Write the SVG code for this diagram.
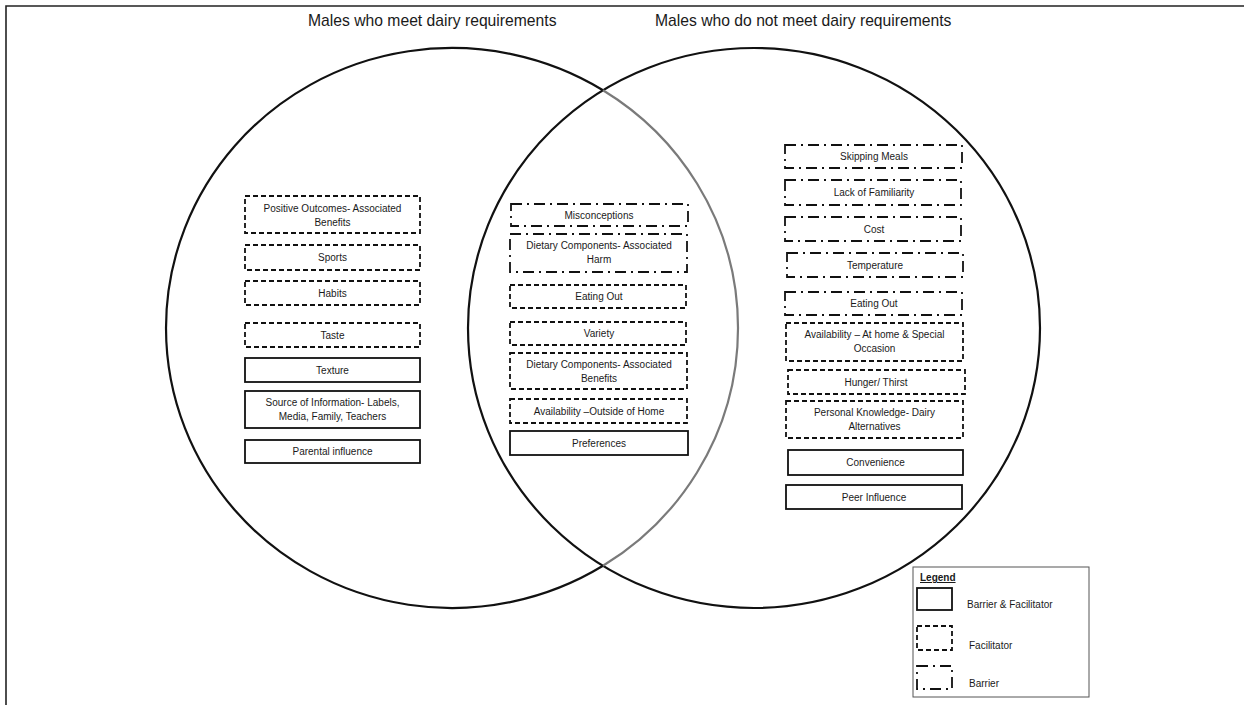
<svg xmlns="http://www.w3.org/2000/svg" width="1244" height="705" viewBox="0 0 1244 705">
<style>
.bx{fill:#fff;stroke:#111;stroke-width:1.8}
.dash{stroke-dasharray:5 3}
.dd{stroke-dasharray:11 5 2 5}
.lbl{font-family:"Liberation Sans",Arial,sans-serif;font-size:10px;text-anchor:middle;fill:#1a1a1a}
.ttl{font-family:"Liberation Sans",Arial,sans-serif;font-size:15.7px;fill:#1a1a1a}
.lg{font-family:"Liberation Sans",Arial,sans-serif;font-size:10px;fill:#1a1a1a}
.circ{fill:none;stroke-width:2.2}
</style>
<rect x="0" y="0" width="1244" height="705" fill="#fff"/>
<g id="frame">
<path d="M6 705 V6 H1244" fill="none" stroke="#222" stroke-width="1.6"/>
</g>
<g id="titles">
<text class="ttl" x="308" y="26">Males who meet dairy requirements</text>
<text class="ttl" x="655" y="26">Males who do not meet dairy requirements</text>
</g>
<g id="circles">
<ellipse class="circ" cx="754" cy="328" rx="286" ry="280" stroke="#111"/>
<path class="circ" d="M603 90.2 A286 280 0 1 0 603 565.8" stroke="#111"/>
<path class="circ" d="M603 90.2 A286 280 0 0 1 603 565.8" stroke="#7a7a7a"/>
</g>
<g id="left">
<g id="n-positive"><rect class="bx dash" x="245" y="196" width="175" height="37"/><text class="lbl" x="332.5" y="211.5">Positive Outcomes- Associated</text><text class="lbl" x="332.5" y="225.5">Benefits</text></g>
<g id="n-sports"><rect class="bx dash" x="245" y="245" width="175" height="25"/><text class="lbl" x="332.5" y="261">Sports</text></g>
<g id="n-habits"><rect class="bx dash" x="245" y="281" width="175" height="24"/><text class="lbl" x="332.5" y="297">Habits</text></g>
<g id="n-taste"><rect class="bx dash" x="245" y="323" width="175" height="24"/><text class="lbl" x="332.5" y="339">Taste</text></g>
<g id="n-texture"><rect class="bx" x="245" y="358" width="175" height="24"/><text class="lbl" x="332.5" y="374">Texture</text></g>
<g id="n-source"><rect class="bx" x="245" y="391" width="175" height="37"/><text class="lbl" x="332.5" y="406">Source of Information- Labels,</text><text class="lbl" x="332.5" y="420">Media, Family, Teachers</text></g>
<g id="n-parental"><rect class="bx" x="245" y="440" width="175" height="23"/><text class="lbl" x="332.5" y="455">Parental influence</text></g>
</g>
<g id="middle">
<g id="n-misconceptions"><rect class="bx dd" x="511" y="204" width="177" height="22"/><text class="lbl" x="599" y="219">Misconceptions</text></g>
<g id="n-harm"><rect class="bx dd" x="510" y="234" width="177" height="38"/><text class="lbl" x="599" y="249">Dietary Components- Associated</text><text class="lbl" x="599" y="263">Harm</text></g>
<g id="n-eatingout-m"><rect class="bx dash" x="510" y="285" width="176" height="23"/><text class="lbl" x="599" y="300">Eating Out</text></g>
<g id="n-variety"><rect class="bx dash" x="510" y="322" width="176" height="23"/><text class="lbl" x="599" y="337">Variety</text></g>
<g id="n-benefits"><rect class="bx dash" x="510" y="353" width="177" height="36"/><text class="lbl" x="599" y="368">Dietary Components- Associated</text><text class="lbl" x="599" y="382">Benefits</text></g>
<g id="n-outside"><rect class="bx dash" x="510" y="399" width="177" height="24"/><text class="lbl" x="599" y="415">Availability –Outside of Home</text></g>
<g id="n-preferences"><rect class="bx" x="510" y="431" width="178" height="24"/><text class="lbl" x="599" y="447">Preferences</text></g>
</g>
<g id="right">
<g id="n-skipping"><rect class="bx dd" x="785" y="145" width="177" height="23"/><text class="lbl" x="874" y="160">Skipping Meals</text></g>
<g id="n-familiarity"><rect class="bx dd" x="785" y="180" width="176" height="25"/><text class="lbl" x="874" y="196">Lack of Familiarity</text></g>
<g id="n-cost"><rect class="bx dd" x="785" y="217" width="176" height="24"/><text class="lbl" x="874" y="233">Cost</text></g>
<g id="n-temperature"><rect class="bx dd" x="787" y="253" width="176" height="24"/><text class="lbl" x="875" y="269">Temperature</text></g>
<g id="n-eatingout-r"><rect class="bx dd" x="785" y="292" width="177" height="23"/><text class="lbl" x="874" y="307">Eating Out</text></g>
<g id="n-athome"><rect class="bx dash" x="786" y="323" width="177" height="38"/><text class="lbl" x="874.5" y="338">Availability – At home &amp; Special</text><text class="lbl" x="874.5" y="352">Occasion</text></g>
<g id="n-hunger"><rect class="bx dash" x="788" y="370" width="177" height="24"/><text class="lbl" x="876" y="386">Hunger/ Thirst</text></g>
<g id="n-knowledge"><rect class="bx dash" x="786" y="401" width="177" height="37"/><text class="lbl" x="874.5" y="416">Personal Knowledge- Dairy</text><text class="lbl" x="874.5" y="430">Alternatives</text></g>
<g id="n-convenience"><rect class="bx" x="788" y="450" width="175" height="25"/><text class="lbl" x="875.5" y="466">Convenience</text></g>
<g id="n-peer"><rect class="bx" x="786" y="485" width="176" height="24"/><text class="lbl" x="874" y="501">Peer Influence</text></g>
</g>
<g id="legend">
<rect x="913" y="567" width="176" height="130" fill="#fff" stroke="#555" stroke-width="1"/>
<text class="lg" x="920" y="581" font-weight="bold" font-size="9.5" text-decoration="underline">Legend</text>
<rect class="bx" x="917" y="588" width="35" height="22"/>
<text class="lg" x="967" y="608">Barrier &amp; Facilitator</text>
<rect class="bx dash" x="917" y="626" width="35" height="24"/>
<text class="lg" x="969" y="649">Facilitator</text>
<rect class="bx dd" x="917" y="666" width="35" height="23"/>
<text class="lg" x="969" y="687">Barrier</text>
</g>
<g id="connectors"></g>
</svg>
